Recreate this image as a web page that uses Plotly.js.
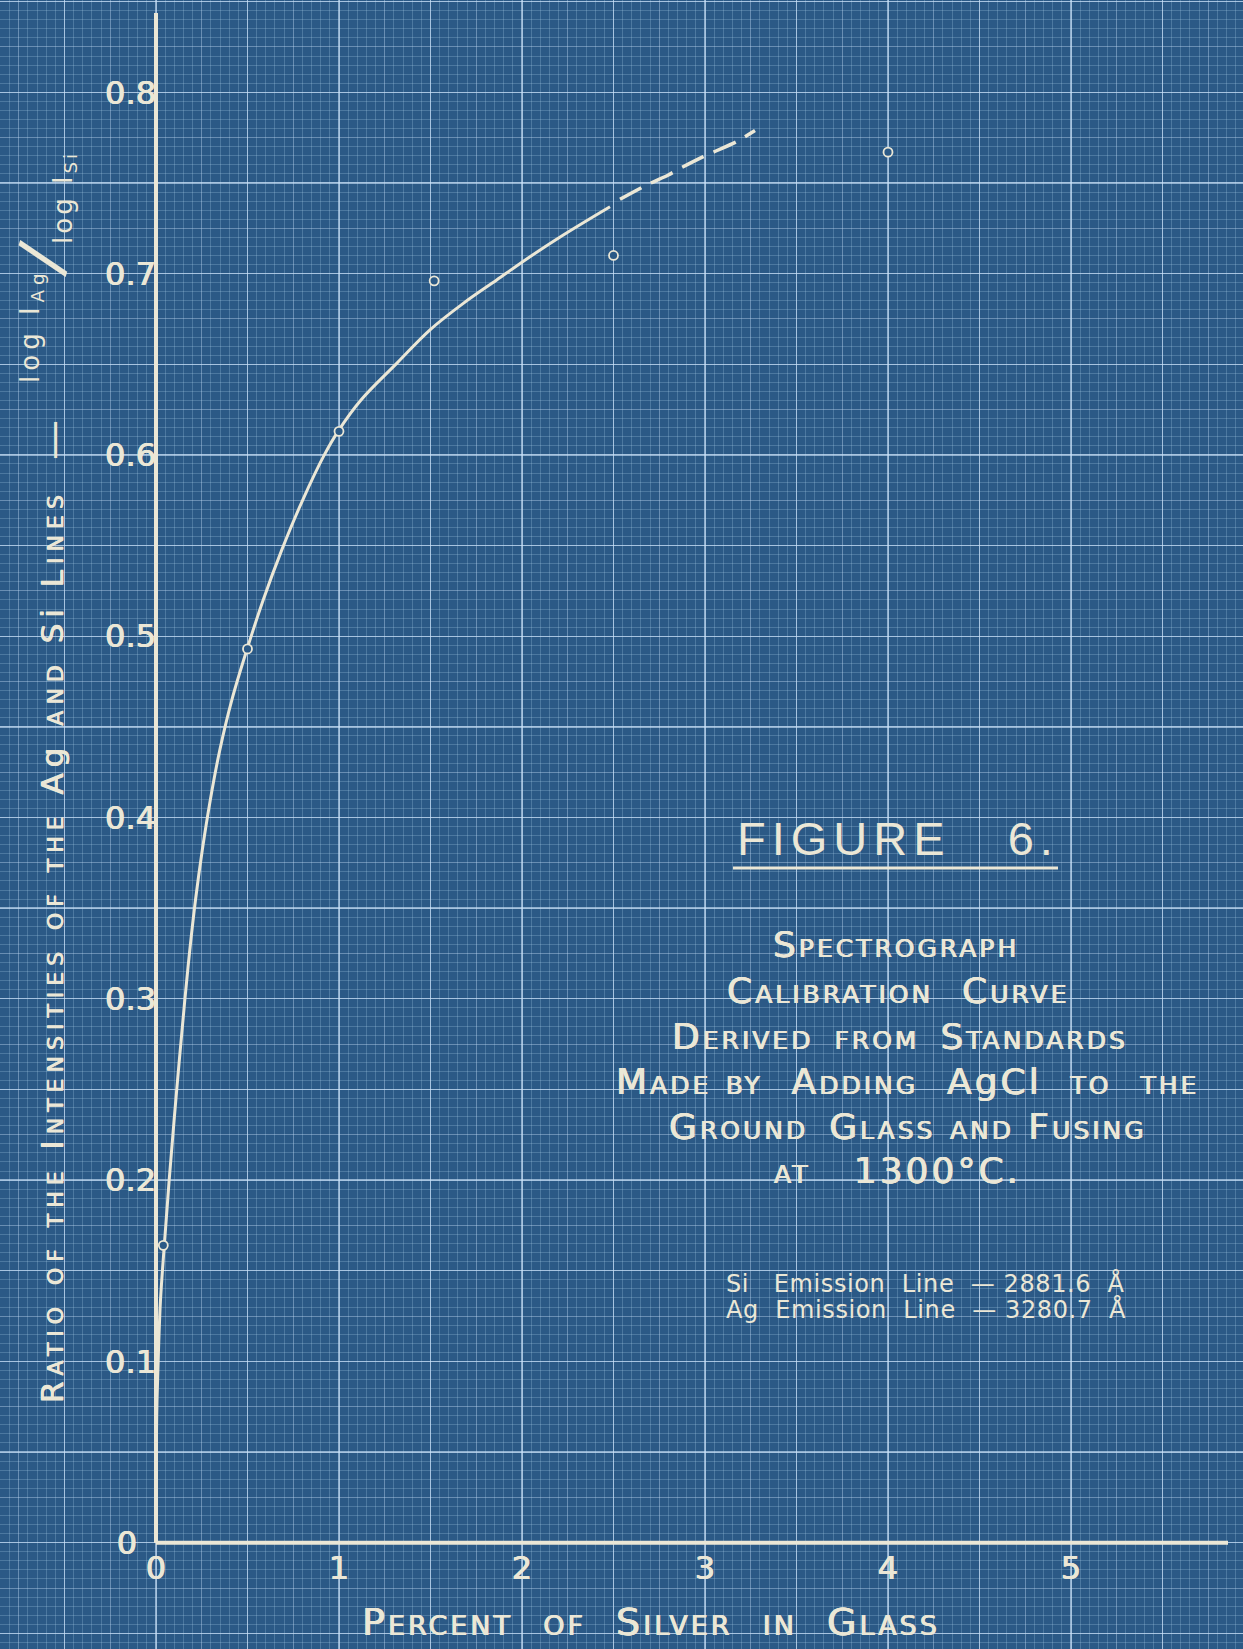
<!DOCTYPE html>
<html>
<head>
<meta charset="utf-8">
<script src="https://cdn.plot.ly/plotly-3.0.1.min.js"></script>
<style>
  html, body { margin: 0; padding: 0; background: #2b5986; }
  #chart { width: 1243px; height: 1649px; }
</style>
</head>
<body>
<div id="chart"></div>
<script>
// ---------------- DATA (read from the blueprint) ----------------
// Standards: percent of silver in glass vs. ratio log I(Ag) / log I(Si)
const silverPct      = [0.04, 0.50, 1.00, 1.52, 2.50, 4.00];
const intensityRatio = [0.164, 0.493, 0.613, 0.696, 0.710, 0.767];

// Hand-drawn calibration curve (solid part)
const curveX = [0, 0.0016, 0.0055, 0.0137, 0.0246, 0.0448, 0.0721, 0.1131, 0.1574, 0.1847, 0.2158, 0.2530, 0.2967, 0.3486, 0.4142, 0.4989, 0.5858, 0.6869, 0.8016, 0.9197, 0.9973, 1.1202, 1.3153, 1.4973, 1.6792, 1.8617, 2.0437, 2.2257, 2.4809];
const curveY = [0, 0.0511, 0.0787, 0.1063, 0.1339, 0.1633, 0.2001, 0.2497, 0.2993, 0.3269, 0.3545, 0.3821, 0.4097, 0.4372, 0.4648, 0.4933, 0.5200, 0.5475, 0.5751, 0.6000, 0.6134, 0.6303, 0.6505, 0.6690, 0.6836, 0.6965, 0.7093, 0.7213, 0.7369];

// Extrapolated part of the curve (dashed)
const extX = [2.5355, 2.6814, 2.7995, 2.8634, 2.9907, 3.1732, 3.2732];
const extY = [0.7410, 0.7489, 0.7544, 0.7580, 0.7645, 0.7728, 0.7789];

// Tick labels
const xTickVals = [0, 1, 2, 3, 4, 5];
const xTickText = ['0', '1', '2', '3', '4', '5'];
const yTickVals = [0, 0.1, 0.2, 0.3, 0.4, 0.5, 0.6, 0.7, 0.8];
const yTickText = ['0', '0.1', '0.2', '0.3', '0.4', '0.5', '0.6', '0.7', '0.8'];

// Texts
const figureTitle = 'FIGURE\u00a0\u00a0\u00a06.';
const descLines = [
  'Spectrograph',
  'Calibration\u00a0 Curve',
  'Derived\u2002from\u2002Standards',
  'Made by\u00a0 Adding\u00a0 A<span style="font-variant:normal">g</span>C<span style="font-variant:normal">l</span>\u00a0 to\u00a0 the',
  'Ground\u2002Glass and Fusing',
  'at\u00a0\u00a0 1300°C.'
];
const emissionLines = [
  'Si\u00a0\u00a0\u00a0Emission\u00a0\u00a0Line\u00a0\u00a0—\u00a02881.6\u00a0\u00a0Å',
  'Ag\u00a0\u00a0Emission\u00a0\u00a0Line\u00a0\u00a0—\u00a03280.7\u00a0\u00a0Å'
];
const xTitle = 'Percent\u00a0 of\u00a0 Silver\u00a0 in\u00a0 Glass';
const yTitle = 'Ratio of the Intensities of the A<span style="font-variant:normal">g</span> and S<span style="font-variant:normal">i</span> Lines';

// ---------------- LAYOUT GEOMETRY ----------------
const W = 1243, H = 1649;
const x0px = 156, pxPerX = 183;      // pixel of x=0, pixels per 1 %
const y0px = 1542.7, pxPerY = 1813;  // pixel of y=0, pixels per 1.0
const xRange = [-x0px / pxPerX, (W - x0px) / pxPerX];
const yRange = [(y0px - H) / pxPerY, y0px / pxPerY];
const xAxisEnd = (1228 - x0px) / pxPerX;
const yAxisEnd = (y0px - 13) / pxPerY;

const BG = '#2b5986';
const INK = '#ebe7d6';
const FINE = 'rgba(175,208,236,0.26)';
const MED = 'rgba(190,218,244,0.42)';
const BRIGHT = 'rgba(205,228,250,0.62)';
const FONT = 'DejaVu Sans, Liberation Sans, sans-serif';
const BOLDEN = '0.5px 0 0 ' + INK + ', -0.5px 0 0 ' + INK;

const px = v => v / W;
const py = v => 1 - v / H;

const traces = [
  { type: 'scatter', mode: 'lines', x: curveX, y: curveY,
    line: { color: INK, width: 3, shape: 'spline', smoothing: 1 },
    hoverinfo: 'skip', showlegend: false },
  { type: 'scatter', mode: 'lines', x: extX, y: extY,
    line: { color: INK, width: 3.5, dash: '24px,11px', shape: 'spline', smoothing: 0.6 },
    hoverinfo: 'skip', showlegend: false },
  { type: 'scatter', mode: 'markers', x: silverPct, y: intensityRatio,
    marker: { symbol: 'circle', size: 9, color: BG, line: { color: INK, width: 1.8 } },
    hoverinfo: 'skip', showlegend: false },
  { type: 'scatter', x: [], y: [], xaxis: 'x2', yaxis: 'y2', showlegend: false, hoverinfo: 'skip' },
  { type: 'scatter', x: [], y: [], xaxis: 'x3', yaxis: 'y3', showlegend: false, hoverinfo: 'skip' },
  { type: 'scatter', x: [], y: [], xaxis: 'x', yaxis: 'y4', showlegend: false, hoverinfo: 'skip' }
];

const annotations = [];
const ann = (text, x, y, o) => annotations.push(Object.assign({
  text, xref: 'paper', yref: 'paper', x: px(x), y: py(y),
  xanchor: 'center', yanchor: 'middle', showarrow: false
}, o));

ann('<span style="letter-spacing:6px">' + figureTitle + '</span>', 898, 838,
  { font: { family: 'Liberation Sans, DejaVu Sans, sans-serif', size: 47, color: INK } });
const descY = [945, 990, 1036, 1081, 1126, 1170];
const descX = [896, 898, 900, 907, 908, 897];
descLines.forEach((t, i) => ann('<span style="letter-spacing:3px">' + t + '</span>', descX[i], descY[i],
  { font: { family: FONT, size: 36, color: INK, variant: 'small-caps', shadow: BOLDEN } }));
const emY = [1283, 1309];
emissionLines.forEach((t, i) => ann('<span style="letter-spacing:0.6px">' + t + '</span>', 724, emY[i],
  { xanchor: 'left', font: { family: FONT, size: 24, color: INK } }));

ann('<span style="letter-spacing:3px">' + xTitle + '</span>', 651, 1622,
  { font: { family: FONT, size: 38, color: INK, variant: 'small-caps', shadow: BOLDEN } });
ann('<span style="letter-spacing:6px">' + yTitle + '</span>', 52, 946,
  { textangle: -90, font: { family: FONT, size: 31, color: INK, variant: 'small-caps', shadow: BOLDEN } });
ann('—', 53, 440, { textangle: -90, font: { family: FONT, size: 40, color: INK } });
ann('<span style="letter-spacing:5px">log I<sub>Ag</sub></span>', 32, 325,
  { textangle: -90, font: { family: FONT, size: 26, color: INK } });
ann('/', 41, 258, { textangle: -73, font: { family: FONT, size: 66, color: INK } });
ann('<span style="letter-spacing:3px">log I<sub>Si</sub></span>', 64, 197,
  { textangle: -90, font: { family: FONT, size: 26, color: INK } });

const gridAxis = (dtick, color, width, minorDtick) => Object.assign({
  tick0: 0, dtick, showgrid: true, gridcolor: color, gridwidth: width,
  showticklabels: false, ticks: '', zeroline: false, showline: false, fixedrange: true
}, minorDtick ? { minor: { tick0: 0, dtick: minorDtick, showgrid: true, gridcolor: FINE, gridwidth: 1 } } : {});

const labelAxis = (extra) => Object.assign({
  overlaying: 'x', anchor: 'free', tickmode: 'array', showgrid: false, ticks: '',
  zeroline: false, showline: false, fixedrange: true, automargin: false,
  tickfont: { family: FONT, size: 32, color: INK, shadow: BOLDEN }
}, extra);

const yZeroIdx = yTickVals.indexOf(0);

const layout = {
  width: W, height: H,
  margin: { l: 0, r: 0, t: 0, b: 0, pad: 0 },
  paper_bgcolor: BG, plot_bgcolor: BG,
  showlegend: false,
  xaxis: Object.assign({ range: xRange }, gridAxis(0.25, MED, 1, 0.05)),
  yaxis: Object.assign({ range: yRange }, gridAxis(0.025, MED, 1, 0.005)),
  xaxis2: Object.assign({ range: xRange, overlaying: 'x' }, gridAxis(0.5, BRIGHT, 1.4)),
  yaxis2: Object.assign({ range: yRange, overlaying: 'y' }, gridAxis(0.05, BRIGHT, 1.4)),
  // tick labels of the percent axis, placed on the y = 0 line
  xaxis3: labelAxis({ overlaying: 'x', position: 1 - y0px / H, side: 'bottom', range: xRange,
    tickvals: xTickVals, ticktext: xTickText, ticklabelstandoff: 3 }),
  // tick labels 0.1 ... 0.8 of the ratio axis, placed at x = 0
  yaxis3: labelAxis({ overlaying: 'y', position: x0px / W, side: 'left', range: yRange,
    tickvals: yTickVals.filter((v, i) => i !== yZeroIdx),
    ticktext: yTickText.filter((t, i) => i !== yZeroIdx) }),
  // the "0" of the ratio axis sits a little further left, as on the drawing
  yaxis4: labelAxis({ overlaying: 'y', position: (x0px - 19) / W, side: 'left', range: yRange,
    tickvals: [yTickVals[yZeroIdx]], ticktext: [yTickText[yZeroIdx]] }),
  shapes: [
    { type: 'line', xref: 'x', yref: 'y', x0: 0, x1: 0, y0: 0, y1: yAxisEnd, line: { color: INK, width: 4 }, layer: 'above' },
    { type: 'line', xref: 'x', yref: 'y', x0: 0, x1: xAxisEnd, y0: 0, y1: 0, line: { color: INK, width: 4 }, layer: 'above' },
    { type: 'line', xref: 'paper', yref: 'paper', x0: px(733), x1: px(1058), y0: py(868), y1: py(868), line: { color: INK, width: 3 }, layer: 'above' }
  ],
  annotations
};

Plotly.newPlot('chart', traces, layout, { staticPlot: true, displayModeBar: false });
</script>
</body>
</html>
